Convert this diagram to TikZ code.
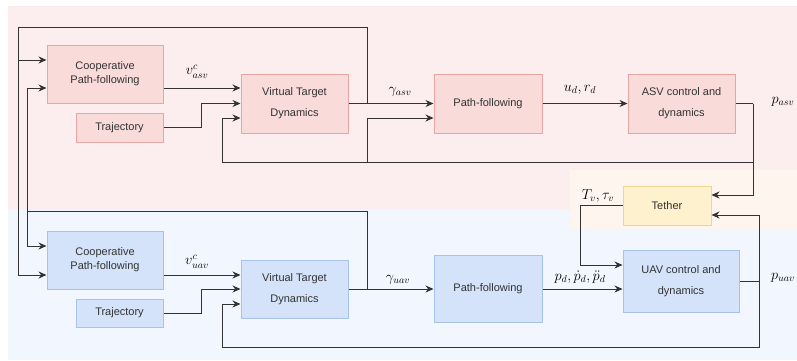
\documentclass[tikz,border=0pt]{standalone}
\usepackage[no-math]{fontspec}
\setmainfont{Liberation Sans}
\usetikzlibrary{arrows.meta,calc}

\definecolor{bgRed}{HTML}{FCEEEE}
\definecolor{bgBlue}{HTML}{F2F6FE}
\definecolor{bgOrange}{HTML}{FEF5EF}
\definecolor{redFill}{HTML}{F9DBDA}
\definecolor{redLine}{HTML}{E8A5A3}
\definecolor{blueFill}{HTML}{D4E2FA}
\definecolor{blueLine}{HTML}{A8C3EA}
\definecolor{yelFill}{HTML}{FDF1CE}
\definecolor{yelLine}{HTML}{F2D58E}
\definecolor{wire}{HTML}{333333}

\tikzset{
  blk/.style={draw, line width=1pt, inner sep=0pt, align=center,
    font=\fontsize{11}{14}\selectfont, text=black!80},
  redblk/.style={blk, fill=redFill, draw=redLine},
  blueblk/.style={blk, fill=blueFill, draw=blueLine},
  yelblk/.style={blk, fill=yelFill, draw=yelLine},
  wide/.style={font=\fontsize{11}{21}\selectfont},
  ln/.style={draw=wire, line width=0.9pt},
  arr/.style={ln, -{Stealth[length=8pt,width=7pt]}},
  lbl/.style={font=\fontsize{14.5}{16}\selectfont, inner sep=0pt}
}

\begin{document}
\begin{tikzpicture}[x=1pt,y=-1pt]
\useasboundingbox (0,0) rectangle (797,360);

% shaded regions for the two vehicles and the tether
\fill[bgBlue] (8,210) rectangle (797,360);
\fill[bgRed] (8,6) rectangle (797,210);
\fill[bgOrange] (570,170) rectangle (797,229);

% ASV chain
\node[redblk, minimum width=116pt, minimum height=58pt] (ccA) at (105,74) {Cooperative\\Path-following};
\node[redblk, minimum width=87pt, minimum height=29pt] (trA) at (119.5,127.5) {Trajectory};
\node[redblk, wide, minimum width=107pt, minimum height=59pt] (vtA) at (294.5,103.5) {Virtual Target\\Dynamics};
\node[redblk, minimum width=108pt, minimum height=59pt] (pfA) at (488,103.5) {Path-following};
\node[redblk, wide, minimum width=107pt, minimum height=59pt] (asA) at (681.5,103.5) {ASV control and\\dynamics};

% tether
\node[yelblk, minimum width=88pt, minimum height=39pt] (te) at (667,205.5) {Tether};

% UAV chain
\node[blueblk, minimum width=116pt, minimum height=58pt] (ccB) at (105,260) {Cooperative\\Path-following};
\node[blueblk, minimum width=87pt, minimum height=28pt] (trB) at (119.5,313) {Trajectory};
\node[blueblk, wide, minimum width=107pt, minimum height=58pt] (vtB) at (294.5,289) {Virtual Target\\Dynamics};
\node[blueblk, minimum width=108pt, minimum height=67pt] (pfB) at (488,289) {Path-following};
\node[blueblk, wide, minimum width=116pt, minimum height=62pt] (uvB) at (681,281) {UAV control and\\dynamics};

% junctions
\coordinate (jA) at (367,103.5);
\coordinate (jB) at (367,289);
\coordinate (oTL) at (18,27);
\coordinate (oIL) at (27,211);
\coordinate (pA) at (753,103.5);
\coordinate (fA) at (753,162);
\coordinate (fAm) at (367,162);
\coordinate (fAl) at (222,162);
\coordinate (pB) at (759,281);
\coordinate (fBl) at (222,347);
\coordinate (tq) at (580,265);

% ASV signal flow
\draw[arr] ($(ccA.east)+(0,14)$) -- ($(vtA.west)+(0,-15.5)$);
\draw[arr] (trA.east) -| ($(vtA.west)+(-39,0)$) -- (vtA.west);
\draw[arr] (vtA.east) -- (pfA.west);
\draw[arr] (pfA.east) -- (asA.west);
\draw[ln] (asA.east) -- (pA);
\draw[arr] (pA) |- ($(te.east)+(0,-10.5)$);
\draw[arr] (fA) -- (fAl) |- ($(vtA.west)+(0,14.5)$);
\draw[arr] (fAm) |- ($(pfA.west)+(0,14.5)$);

% coordination loops between the two virtual targets
\draw[arr] (jA) |- (oTL) |- ($(ccA.west)+(0,-14)$);
\draw[arr] (oTL) |- ($(ccB.west)+(0,15)$);
\draw[arr] (jB) |- (oIL) |- ($(ccA.west)+(0,14)$);
\draw[arr] (oIL) |- ($(ccB.west)+(0,-14)$);

% UAV signal flow
\draw[arr] ($(ccB.east)+(0,15)$) -- ($(vtB.west)+(0,-14)$);
\draw[arr] (trB.east) -| ($(vtB.west)+(-39,0)$) -- (vtB.west);
\draw[arr] (vtB.east) -- (pfB.west);
\draw[arr] (pfB.east) -- (uvB.west |- pfB.east);
\draw[arr] (te.west) -| (tq) -- ($(uvB.west)+(0,-16)$);
\draw[ln] (uvB.east) -- (pB);
\draw[arr] (pB) |- ($(te.east)+(0,9.5)$);
\draw[arr] (pB) |- (fBl) |- ($(vtB.west)+(0,15)$);

% signal labels
\node[lbl] (lvA) at (197,72) {$v^c_{asv}$};
\node[lbl] (lgA) at (400,92) {$\gamma_{asv}$};
\node[lbl] (lur) at (580,90) {$u_d, r_d$};
\node[lbl] (lpA) at (783,102) {$p_{asv}$};
\node[lbl] (lT) at (598,196) {$T_v, \tau_v$};
\node[lbl] (lvB) at (197,262) {$v^c_{uav}$};
\node[lbl] (lgB) at (398,280) {$\gamma_{uav}$};
\node[lbl] (lpd) at (580,277) {$p_d, \dot{p}_d, \ddot{p}_d$};
\node[lbl] (lpB) at (783,278) {$p_{uav}$};
\end{tikzpicture}
\end{document}
